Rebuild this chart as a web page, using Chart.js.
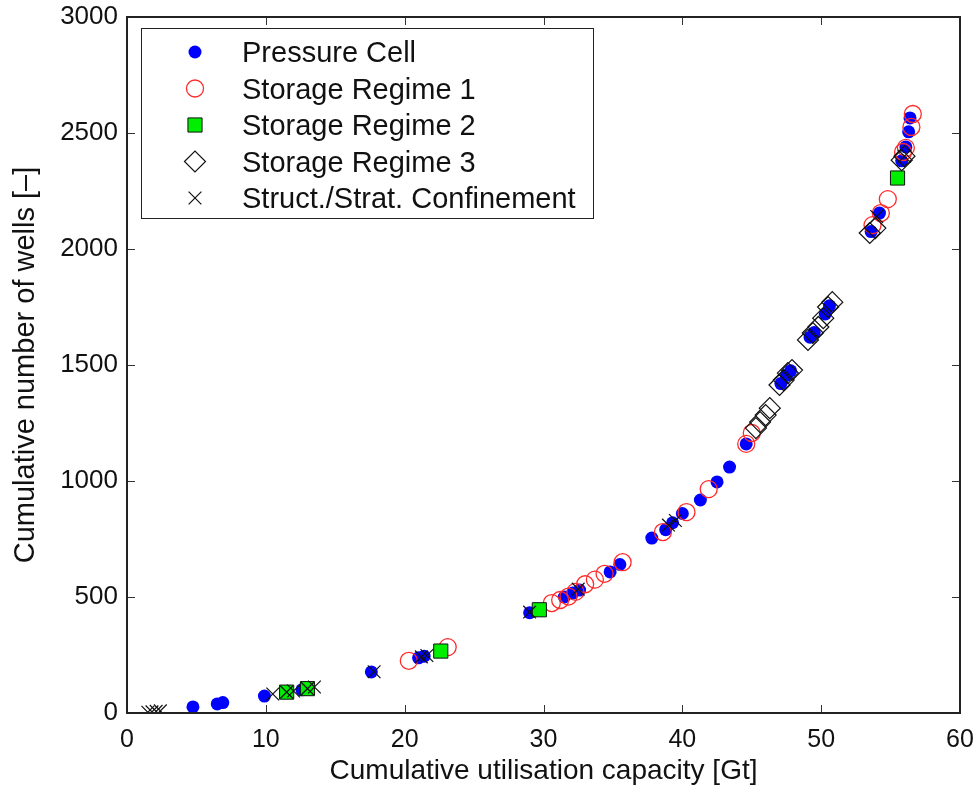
<!DOCTYPE html>
<html>
<head>
<meta charset="utf-8">
<script src="https://cdn.jsdelivr.net/npm/chart.js@4.4.0/dist/chart.umd.min.js"></script>
<style>
html, body { margin: 0; padding: 0; background: #fff; }
canvas { display: block; }
</style>
</head>
<body>
<canvas id="wells" width="977" height="791"></canvas>
<script>
// axis ticks
var xTicks = [0, 10, 20, 30, 40, 50, 60]
var yTicks = [0, 500, 1000, 1500, 2000, 2500, 3000]

// Pressure Cell
var pressureX = [4.75, 6.5, 6.9, 9.9, 12.6, 17.6, 21.0, 21.4, 29.0, 31.5, 32.1, 32.6, 34.8, 35.5, 37.8, 38.8, 39.3, 40.0, 41.3, 42.5, 43.4, 44.6, 47.1, 47.5, 47.8, 49.2, 49.5, 50.3, 50.6, 53.6, 54.2, 55.8, 56.1, 56.3, 56.4]
var pressureY = [26, 39, 45, 73, 100, 177, 238, 245, 432, 500, 517, 530, 608, 640, 754, 790, 820, 860, 918, 996, 1060, 1160, 1420, 1455, 1475, 1620, 1640, 1720, 1755, 2075, 2155, 2380, 2440, 2505, 2565]

// Storage Regime 1
var regime1X = [20.3, 23.1, 30.6, 31.2, 31.8, 32.3, 33.0, 33.7, 34.4, 35.7, 38.6, 40.3, 41.9, 44.6, 45.0, 53.7, 54.3, 54.8, 55.9, 56.1, 56.5, 56.6]
var regime1Y = [225, 284, 474, 487, 502, 522, 555, 575, 600, 650, 780, 866, 965, 1160, 1207, 2103, 2155, 2215, 2418, 2436, 2526, 2582]

// Storage Regime 2
var regime2X = [11.5, 13.0, 22.6, 29.7, 55.5]
var regime2Y = [90, 105, 267, 445, 2306]

// Storage Regime 3
var regime3X = [45.3, 45.6, 46.0, 46.3, 47.0, 47.3, 47.6, 47.9, 49.05, 49.4, 49.8, 50.15, 50.5, 50.8, 53.5, 53.9, 55.8, 56.0]
var regime3Y = [1228, 1254, 1284, 1314, 1414, 1435, 1465, 1478, 1608, 1638, 1664, 1702, 1750, 1771, 2069, 2090, 2383, 2400]

// Struct./Strat. Confinement
var confineX = [1.5, 1.8, 2.1, 2.4, 10.5, 11.5, 12.0, 13.0, 13.5, 17.8, 21.2, 21.6, 29.0, 32.5, 39.0, 39.5, 54.0, 56.0]
var confineY = [3, 5, 7, 9, 82, 90, 95, 105, 112, 178, 242, 248, 435, 534, 810, 830, 2140, 2400]

var legendNames = ['Pressure Cell', 'Storage Regime 1', 'Storage Regime 2', 'Storage Regime 3', 'Struct./Strat. Confinement']

var fontFamily = "'Liberation Sans', Arial, Helvetica, sans-serif"

function toPoints(xs, ys) {
    var pts = []
    for (var i = 0; i < xs.length; i++) {
        pts.push({ x: xs[i], y: ys[i] })
    }
    return pts
}

var datasets = [
    { label: legendNames[0], data: toPoints(pressureX, pressureY), order: 5,
      pointStyle: 'circle', pointRadius: 6.5, backgroundColor: '#0000ff', borderColor: '#0000ff', borderWidth: 0 },
    { label: legendNames[1], data: toPoints(regime1X, regime1Y), order: 4,
      pointStyle: 'circle', pointRadius: 8.5, backgroundColor: 'rgba(0,0,0,0)', borderColor: '#ff2a2a', borderWidth: 1.3 },
    { label: legendNames[2], data: toPoints(regime2X, regime2Y), order: 3,
      pointStyle: 'rect', pointRadius: 10, backgroundColor: '#00ee00', borderColor: '#111', borderWidth: 1 },
    { label: legendNames[3], data: toPoints(regime3X, regime3Y), order: 1,
      pointStyle: 'rectRot', pointRadius: 10.5, backgroundColor: 'rgba(0,0,0,0)', borderColor: '#111', borderWidth: 1.2 },
    { label: legendNames[4], data: toPoints(confineX, confineY), order: 2,
      pointStyle: 'crossRot', pointRadius: 9, backgroundColor: '#111', borderColor: '#111', borderWidth: 1.2 }
]

// box round the plot, with inward ticks on all four sides
var framePlugin = {
    id: 'frame',
    afterDatasetsDraw: function(chart) {
        var ctx = chart.ctx
        var a = chart.chartArea
        var xs = chart.scales.x
        var ys = chart.scales.y
        ctx.save()
        ctx.strokeStyle = '#333'
        ctx.lineWidth = 1
        ctx.beginPath()
        xTicks.forEach(function(v) {
            var px = Math.round(xs.getPixelForValue(v)) + 0.5
            ctx.moveTo(px, a.bottom); ctx.lineTo(px, a.bottom - 8)
            ctx.moveTo(px, a.top); ctx.lineTo(px, a.top + 8)
        })
        yTicks.forEach(function(v) {
            var py = Math.round(ys.getPixelForValue(v)) + 0.5
            ctx.moveTo(a.left, py); ctx.lineTo(a.left + 8, py)
            ctx.moveTo(a.right, py); ctx.lineTo(a.right - 8, py)
        })
        ctx.stroke()
        ctx.lineWidth = 2
        ctx.strokeStyle = '#222'
        ctx.strokeRect(a.left, a.top, a.right - a.left, a.bottom - a.top)
        ctx.restore()
    }
}

// legend box in the upper left corner of the plot
var legendPlugin = {
    id: 'boxLegend',
    afterDraw: function(chart) {
        var ctx = chart.ctx
        var left = 141, top = 28, w = 452, h = 190
        ctx.save()
        ctx.fillStyle = '#fff'
        ctx.fillRect(left, top, w, h)
        ctx.strokeStyle = '#222'
        ctx.lineWidth = 1
        ctx.strokeRect(left + 0.5, top + 0.5, w, h)
        ctx.font = '29px ' + fontFamily
        ctx.textBaseline = 'alphabetic'
        var rowY = [52, 88.5, 125, 161.5, 198]
        chart.data.datasets.forEach(function(ds, i) {
            ctx.fillStyle = ds.backgroundColor
            ctx.strokeStyle = ds.borderColor
            ctx.lineWidth = ds.borderWidth
            Chart.helpers.drawPoint(ctx, {
                pointStyle: ds.pointStyle,
                radius: ds.pointRadius,
                rotation: 0,
                borderWidth: ds.borderWidth
            }, 195, rowY[i])
            ctx.fillStyle = '#111'
            ctx.fillText(ds.label, 242, rowY[i] + 10)
        })
        ctx.restore()
    }
}

var ctx = document.getElementById('wells').getContext('2d')
var wellsChart = new Chart(ctx, {
    type: 'scatter',
    data: { datasets: datasets },
    options: {
        responsive: false,
        devicePixelRatio: 1,
        animation: false,
        events: [],
        layout: { padding: { top: 17, right: 17, left: 0, bottom: 0 } },
        plugins: {
            legend: { display: false },
            tooltip: { enabled: false }
        },
        scales: {
            x: {
                type: 'linear', min: 0, max: 60,
                grid: { display: false, drawTicks: false },
                border: { display: false },
                afterBuildTicks: function(scale) {
                    scale.ticks = xTicks.map(function(v) { return { value: v } })
                },
                afterFit: function(scale) {
                    scale.height = 78
                    scale.paddingLeft = 0
                    scale.paddingRight = 0
                },
                ticks: {
                    color: '#111', padding: 12, maxRotation: 0, autoSkip: false,
                    font: { family: fontFamily, size: 25 },
                    callback: function(v) { return String(v) }
                },
                title: {
                    display: true, text: 'Cumulative utilisation capacity [Gt]', color: '#111',
                    font: { family: fontFamily, size: 28 }, padding: { top: 0, bottom: 3 }
                }
            },
            y: {
                type: 'linear', min: 0, max: 3000,
                grid: { display: false, drawTicks: false },
                border: { display: false },
                afterBuildTicks: function(scale) {
                    scale.ticks = yTicks.map(function(v) { return { value: v } })
                },
                afterFit: function(scale) {
                    scale.width = 127
                    scale.paddingTop = 0
                    scale.paddingBottom = 0
                },
                ticks: {
                    color: '#111', padding: 9, autoSkip: false,
                    font: { family: fontFamily, size: 26 },
                    callback: function(v) { return String(v) }
                },
                title: {
                    display: true, text: 'Cumulative number of wells [\u2013]', color: '#111',
                    font: { family: fontFamily, size: 29 }, padding: { top: 9, bottom: 0 }
                }
            }
        }
    },
    plugins: [framePlugin, legendPlugin]
})
</script>
</body>
</html>
